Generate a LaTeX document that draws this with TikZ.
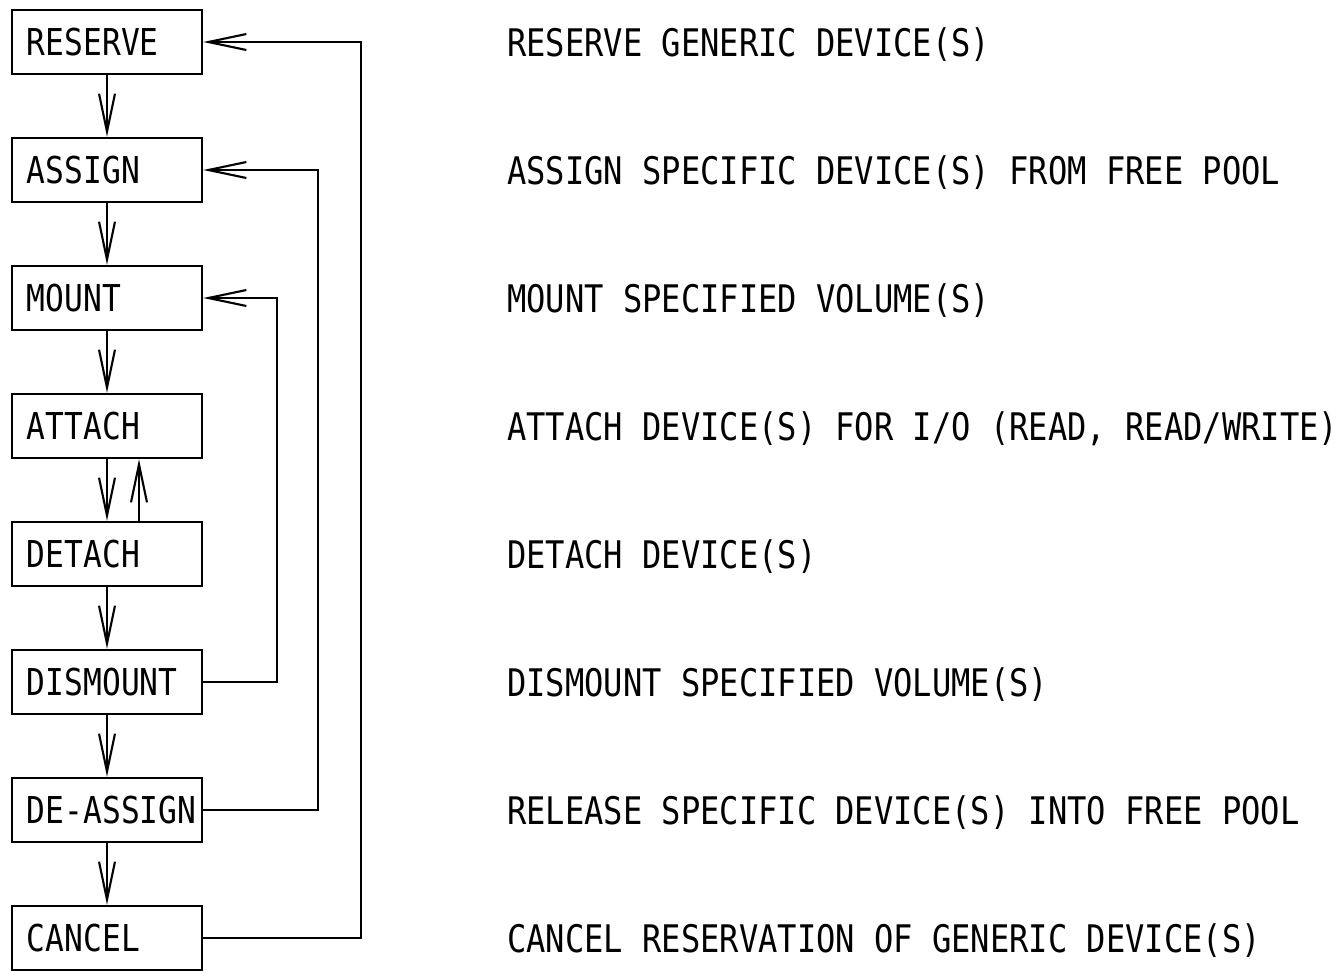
\documentclass[tikz,border=0pt]{standalone}
\usepackage{fontspec}
\newfontfamily\printerfont[FakeStretch=0.845]{DejaVu Sans Mono}
\usetikzlibrary{positioning,arrows.meta}

\begin{document}
\begin{tikzpicture}[x=1pt,y=-1pt,>={Straight Barb[length=38pt,width=16pt]},
  line width=2.1pt,node distance=61.5pt,
  box/.style={draw,line width=2.5pt,minimum height=64pt,text width=160pt,inner xsep=15pt,align=left,
    font=\printerfont\fontsize{37}{40}\selectfont},
  desc/.style={anchor=base west,inner sep=0pt,yshift=-14pt,font=\printerfont\fontsize{38}{40}\selectfont}]
\useasboundingbox (0,0) rectangle (1339,970);
% steps
\node[box] at (107,42) (reserve) {RESERVE};
\node[box,below=of reserve] (assign) {ASSIGN};
\node[box,below=of assign] (mount) {MOUNT};
\node[box,below=of mount] (attach) {ATTACH};
\node[box,below=of attach] (detach) {DETACH};
\node[box,below=of detach] (dismount) {DISMOUNT};
\node[box,below=of dismount] (deassign) {\makebox[160pt][l]{DE-ASSIGN}};
\node[box,below=of deassign] (cancel) {CANCEL};
% descriptions
\coordinate (descx) at (506,0);
\node[desc] at (reserve -| descx) (dreserve) {RESERVE GENERIC DEVICE(S)};
\node[desc] at (assign -| descx) (dassign) {ASSIGN SPECIFIC DEVICE(S) FROM FREE POOL};
\node[desc] at (mount -| descx) (dmount) {MOUNT SPECIFIED VOLUME(S)};
\node[desc] at (attach -| descx) (dattach) {ATTACH DEVICE(S) FOR I/O (READ, READ/WRITE)};
\node[desc] at (detach -| descx) (ddetach) {DETACH DEVICE(S)};
\node[desc] at (dismount -| descx) (ddismount) {DISMOUNT SPECIFIED VOLUME(S)};
\node[desc] at (deassign -| descx) (ddeassign) {RELEASE SPECIFIC DEVICE(S) INTO FREE POOL};
\node[desc] at (cancel -| descx) (dcancel) {CANCEL RESERVATION OF GENERIC DEVICE(S)};
% forward flow
\draw[->] (reserve)--(assign);
\draw[->] (assign)--(mount);
\draw[->] (mount)--(attach);
\draw[->] (attach)--(detach);
\draw[->] ([xshift=32pt]detach.north)--([xshift=32pt]attach.south);
\draw[->] (detach)--(dismount);
\draw[->] (dismount)--(deassign);
\draw[->] (deassign)--(cancel);
% return paths
\coordinate (railc) at (277,0);
\coordinate (railb) at (318,0);
\coordinate (raila) at (361,0);
\draw[->] (dismount.east) -| (mount.east -| railc) -- (mount.east);
\draw[->] (deassign.east) -| (assign.east -| railb) -- (assign.east);
\draw[->] (cancel.east) -| (reserve.east -| raila) -- (reserve.east);
\end{tikzpicture}
\end{document}
